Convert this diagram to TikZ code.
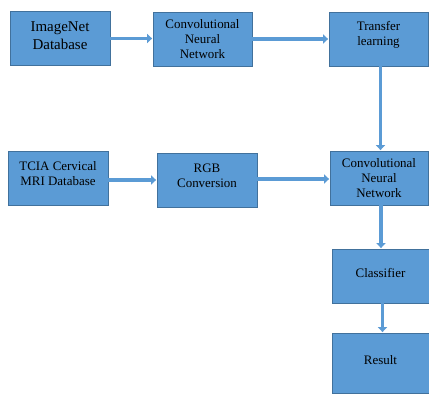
\documentclass[tikz,border=0pt]{standalone}
\usepackage{fontspec}
\setmainfont{Liberation Serif}
\usetikzlibrary{arrows.meta}
\definecolor{boxfill}{HTML}{5B9BD5}
\definecolor{boxline}{HTML}{41719C}
\definecolor{arrcol}{HTML}{5B9BD5}
\begin{document}
\begin{tikzpicture}[x=1bp,y=-1bp,
  blk/.style={draw=boxline, line width=0.8bp, fill=boxfill, inner sep=0pt},
  txt/.style={align=center, inner sep=0pt, font=\fontsize{13}{15}\selectfont, text=black},
  arr/.style={draw=arrcol, line width=3.5bp, -{Triangle[width=9bp,length=5bp]}, shorten >=0.5bp}]
\useasboundingbox (0,0) rectangle (429,394);
\fill[white] (0,0) rectangle (429,394);
\node[blk, minimum width=100bp, minimum height=54bp] (img) at (60,38.5) {};
\node[blk, minimum width=99bp, minimum height=54bp] (cnn1) at (202.5,39) {};
\node[blk, minimum width=99bp, minimum height=54bp] (tl) at (378.5,39) {};
\node[blk, minimum width=100bp, minimum height=54bp] (tcia) at (58,178) {};
\node[blk, minimum width=100bp, minimum height=54bp] (rgb) at (207,180) {};
\node[blk, minimum width=98bp, minimum height=54bp] (cnn2) at (379,178) {};
\node[blk, minimum width=97bp, minimum height=54bp] (cls) at (380.5,276) {};
\node[blk, minimum width=97bp, minimum height=60bp] (res) at (380.5,363) {};
\node[txt, font=\fontsize{15}{17.5}\selectfont] (imgt) at ([yshift=3bp]img.center) {ImageNet\\Database};
\node[txt] (cnn1t) at (cnn1.center) {Convolutional\\Neural\\Network};
\node[txt] (tlt) at ([yshift=4bp]tl.center) {Transfer\\learning};
\node[txt] (tciat) at ([yshift=4.5bp]tcia.center) {TCIA Cervical\\MRI Database};
\node[txt] (rgbt) at ([yshift=4bp]rgb.center) {RGB\\Conversion};
\node[txt] (cnn2t) at (cnn2.center) {Convolutional\\Neural\\Network};
\node[txt] (clst) at ([yshift=3bp]cls.center) {Classifier};
\node[txt] (rest) at ([yshift=3bp]res.center) {Result};
\draw[arr] (img.east) -- (img.east -| cnn1.west);
\draw[arr] (cnn1.east) -- (cnn1.east -| tl.west);
\draw[arr] ([xshift=2bp]tl.south) -- ([xshift=2bp]tl.south |- cnn2.north);
\draw[arr] ([yshift=-2bp]tcia.east) -- ([yshift=-2bp]tcia.east -| rgb.west);
\draw[arr] ([yshift=-1bp]cnn2.west -| rgb.east) -- ([yshift=-1bp]cnn2.west);
\draw[arr] ([xshift=2bp]cnn2.south) -- ([xshift=2bp]cnn2.south |- cls.north);
\draw[arr] ([xshift=2bp]cls.south) -- ([xshift=2bp]cls.south |- res.north);
\end{tikzpicture}
\end{document}
